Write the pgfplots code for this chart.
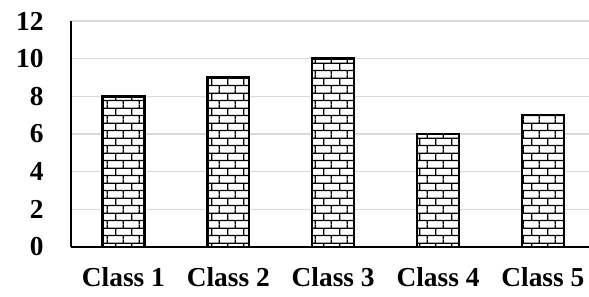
\documentclass[border=0pt]{standalone}
\usepackage{fontspec}
\setmainfont{Liberation Serif}
\usepackage{pgfplots}
\pgfplotsset{compat=1.18}
\usetikzlibrary{patterns.meta}
\pgfdeclarepattern{
  name=mybricks, type=uncolored,
  bottom left={\pgfpoint{0bp}{0bp}}, top right={\pgfpoint{16bp}{14.6bp}},
  tile size={\pgfpoint{16bp}{14.6bp}},
  code={
    \pgfsetlinewidth{1.4bp}
    \pgfpathmoveto{\pgfpoint{-1bp}{3.65bp}}\pgfpathlineto{\pgfpoint{17bp}{3.65bp}}
    \pgfpathmoveto{\pgfpoint{-1bp}{10.95bp}}\pgfpathlineto{\pgfpoint{17bp}{10.95bp}}
    \pgfpathmoveto{\pgfpoint{4bp}{3.65bp}}\pgfpathlineto{\pgfpoint{4bp}{10.95bp}}
    \pgfpathmoveto{\pgfpoint{12bp}{10.95bp}}\pgfpathlineto{\pgfpoint{12bp}{15.1bp}}
    \pgfpathmoveto{\pgfpoint{12bp}{-0.5bp}}\pgfpathlineto{\pgfpoint{12bp}{3.65bp}}
    \pgfusepath{stroke}
  }
}
\begin{document}
\begin{tikzpicture}
\begin{axis}[
  scale only axis,
  width=518bp, height=226bp,
  xmin=-0.5, xmax=4.44,
  ymin=0, ymax=12,
  ytick={0,2,4,6,8,10,12},
  xtick={0,1,2,3,4},
  xticklabels={Class 1,Class 2,Class 3,Class 4,Class 5},
  axis x line*=bottom, axis y line*=left,
  axis line style={line width=2bp, -},
  major tick length=0pt,
  ymajorgrids,
  grid style={line width=1.5bp, color=black!15},
  tick label style={font=\fontsize{27.5}{31}\selectfont\bfseries},
  /pgf/number format/assume math mode=true,
  yticklabel style={xshift=-24bp},
  xticklabel style={yshift=-17bp},
  ybar, bar width=0.4,
  clip=false,
]
\addplot[draw=black, line width=2.4bp, fill=white,
  postaction={pattern=mybricks, pattern color=black}]
  coordinates {(0,8) (1,9) (2,10) (3,6) (4,7)};
\end{axis}
\pgfresetboundingbox
\path ([xshift=-71bp,yshift=-50bp]current axis.south west) rectangle ([yshift=21bp]current axis.north east);
\end{tikzpicture}
\end{document}
